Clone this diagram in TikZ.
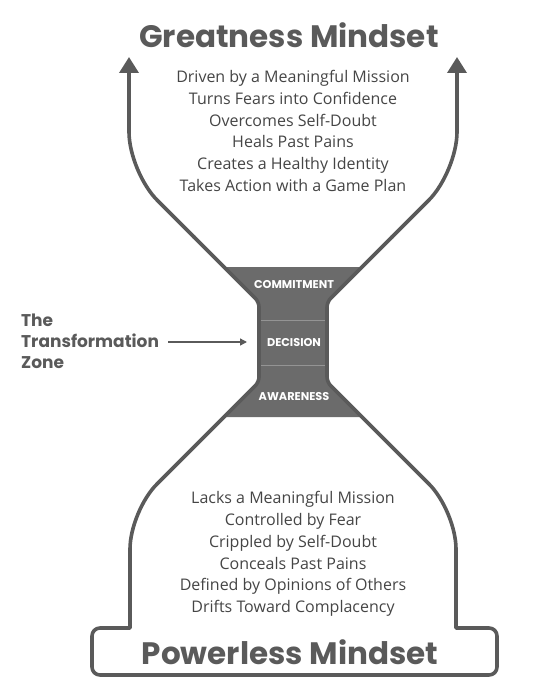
\documentclass[tikz,border=0pt]{standalone}
\usepackage{fontspec}
\setmainfont{Open Sans}
\newfontfamily\headfont{Poppins}
\usetikzlibrary{arrows.meta}
\definecolor{outl}{HTML}{5A5A5A}
\definecolor{zonefill}{HTML}{6B6B6B}
\definecolor{txt}{HTML}{454545}
\definecolor{head}{HTML}{5A5A5A}
\tikzset{
  outline/.style={draw=outl, line width=3.6pt, line join=round, line cap=round},
  bigtip/.style={-{Triangle[length=16pt,width=19pt]}},
  title/.style={font=\headfont\bfseries\fontsize{31}{34}\selectfont, text=head, inner sep=0pt},
  listtext/.style={font=\fontsize{16}{21.7}\selectfont, text=txt, align=center, inner sep=0pt},
  zonelabel/.style={font=\headfont\bfseries\fontsize{11.3}{12}\selectfont, text=white, inner sep=0pt},
  sidelabel/.style={font=\headfont\bfseries\fontsize{17}{21}\selectfont, text=head, align=left, inner sep=0pt, anchor=west},
  divider/.style={draw=white!28!zonefill, line width=0.8pt},
}
\begin{document}
\begin{tikzpicture}[x=1pt,y=-1pt]
\useasboundingbox (0,0) rectangle (551,695);
% fill of the transformation zone
\fill[zonefill] (224,267) -- (362,267) -- (327,302) -- (327,382) -- (362,417)
  -- (224,417) -- (259,382) -- (259,302) -- cycle;
\draw[divider] (259,320) -- (327,320);
\draw[divider] (259,365) -- (327,365);
% named points of the outline
\coordinate (ltip) at (129,57);
\coordinate (rtip) at (457,57);
\coordinate (lbend) at (129,172);
\coordinate (rbend) at (457,172);
\coordinate (lud) at (194,237);
\coordinate (rud) at (392,237);
\coordinate (nlt) at (259,302);
\coordinate (nrt) at (327,302);
\coordinate (nlb) at (259,382);
\coordinate (nrb) at (327,382);
\coordinate (lld) at (194.5,446.5);
\coordinate (rld) at (391.5,446.5);
\coordinate (lbb) at (130,511);
\coordinate (rbb) at (456,511);
\coordinate (lv) at (130,570);
\coordinate (rv) at (456,570);
\coordinate (lj) at (130,628);
\coordinate (rj) at (456,628);
\coordinate (lh) at (111,628);
\coordinate (rh) at (476,628);
\coordinate (boxtl) at (92,628);
\coordinate (boxtr) at (497,628);
\coordinate (boxbl) at (92,675);
\coordinate (boxbr) at (497,675);
% outline, in pieces joined on straight stretches
\draw[outline, bigtip, rounded corners=40] (lud) -- (lbend) -- (ltip);
\draw[outline, bigtip, rounded corners=40] (rud) -- (rbend) -- (rtip);
\draw[outline, rounded corners=5] (lud) -- (nlt) -- (nlb) -- (lld);
\draw[outline, rounded corners=5] (rud) -- (nrt) -- (nrb) -- (rld);
\draw[outline, rounded corners=38] (lld) -- (lbb) -- (lv);
\draw[outline, rounded corners=38] (rld) -- (rbb) -- (rv);
\draw[outline] (lv) -- (lj) -- (lh);
\draw[outline] (rv) -- (rj) -- (rh);
\draw[outline, rounded corners=8] (lh) -- (boxtl) -- (boxbl) -- (boxbr) -- (boxtr) -- (rh);
% texts
\node[title] (great) at (289,35) {Greatness Mindset};
\node[title] (power) at (290,652) {Powerless Mindset};
\node[listtext] (glist) at (293,131) {Driven by a Meaningful Mission\\Turns Fears into Confidence\\Overcomes Self-Doubt\\Heals Past Pains\\Creates a Healthy Identity\\Takes Action with a Game Plan};
\node[listtext] (plist) at (293,554) {Lacks a Meaningful Mission\\Controlled by Fear\\Crippled by Self-Doubt\\Conceals Past Pains\\Defined by Opinions of Others\\Drifts Toward Complacency};
\node[zonelabel] (commit) at (294,285) {COMMITMENT};
\node[zonelabel] (decis) at (294,343) {DECISION};
\node[zonelabel] (aware) at (294,397) {AWARENESS};
\node[sidelabel] (zone) at (21,341) {The\\Transformation\\Zone};
\coordinate (zonein) at (247,342);
\draw[outl, line width=1.4pt, -{Triangle[length=7pt,width=7pt]}] ([xshift=9pt]zone.east |- zonein) -- (zonein);
\end{tikzpicture}
\end{document}
